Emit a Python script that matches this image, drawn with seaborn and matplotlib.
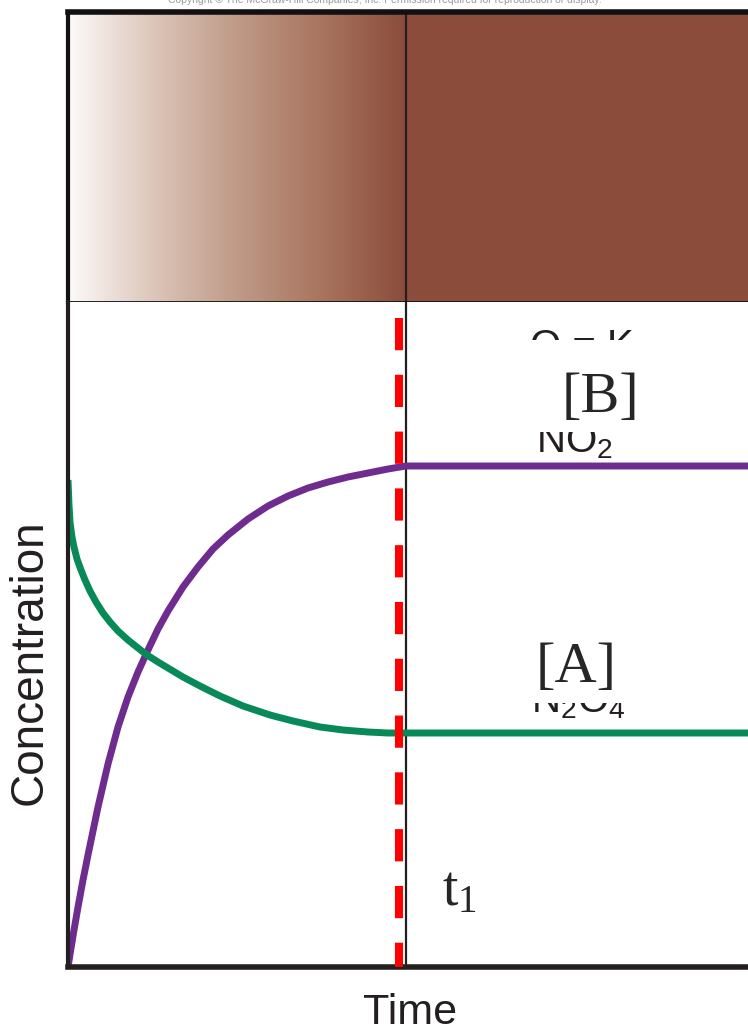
import numpy as np
import pandas as pd
import matplotlib
matplotlib.use('Agg')
import matplotlib.pyplot as plt
from matplotlib.colors import LinearSegmentedColormap
from matplotlib.patches import Rectangle
import seaborn as sns

# Data (time and concentration in arbitrary units)
time_b = [0, 5, 10, 15, 20, 30, 40, 50, 60, 70, 80, 90, 100, 115, 130, 145, 160, 180,
          200, 220, 240, 260, 280, 300, 320, 338, 680]
conc_b = [0, 31, 60, 87, 112, 160, 203, 240, 270, 295, 317, 338, 356, 380, 400, 418, 432, 448,
          461, 471, 479, 485, 490, 494, 498, 501, 501]
time_a = [0, 1, 2, 4, 6, 9, 13, 17, 22, 28, 35, 42, 50, 60, 70, 79, 90, 100, 115, 132, 152,
          175, 202, 225, 252, 275, 300, 320, 338, 680]
conc_a = [487, 462, 445, 430, 420, 408, 397, 387, 376, 365, 354, 345, 336, 327, 319, 312, 305,
          299, 290, 281, 271, 261, 252, 246, 240, 237, 235, 234, 234, 234]
t_eq = 338        # equilibrium time (black divider)
t_marker = 331    # red dashed marker
x_max, y_max = 680, 665

purple = '#6e2c8e'
green = '#078a58'
brown = '#8b4c3c'
ink = '#231f20'

sns.set_style('white')
plt.rcParams['font.family'] = ['Liberation Sans', 'DejaVu Sans']

W, H = 748, 1032
fig = plt.figure(figsize=(W / 100, H / 100), dpi=100)

# Top panel: colour of the mixture
ax_top = fig.add_axes([68 / W, (H - 302) / H, (W - 68) / W, (302 - 12) / H])
cmap = LinearSegmentedColormap.from_list('mix', ['#fdfafa', '#dcc6ba', '#bf9a87', '#a8755f', brown])
grad = np.linspace(0, 1, 256).reshape(1, -1)
ax_top.imshow(grad, cmap=cmap, aspect='auto', extent=[0, t_eq, 0, 1])
ax_top.axvspan(t_eq, x_max, color=brown, lw=0)
ax_top.axvline(t_eq, color=ink, lw=1.6)
ax_top.set_xlim(0, x_max)
ax_top.set_ylim(0, 1)
ax_top.set_xticks([])
ax_top.set_yticks([])
for side, lw in [('top', 4), ('left', 3), ('bottom', 2)]:
    ax_top.spines[side].set_linewidth(lw)
    ax_top.spines[side].set_color('#111111')
ax_top.spines['right'].set_visible(False)

# Bottom panel: concentration vs time
ax = fig.add_axes([68 / W, (H - 967) / H, (W - 68) / W, (967 - 302) / H])
df = pd.concat([
    pd.DataFrame({'time': time_b, 'conc': conc_b, 'species': 'B'}),
    pd.DataFrame({'time': time_a, 'conc': conc_a, 'species': 'A'}),
])
sns.lineplot(data=df, x='time', y='conc', hue='species', palette={'B': purple, 'A': green},
             lw=5, legend=False, ax=ax, sort=False, solid_capstyle='butt', solid_joinstyle='round')
ax.set_xlim(0, x_max)
ax.set_ylim(0, y_max)
ax.set_xticks([])
ax.set_yticks([])
ax.set_xlabel('')
ax.set_ylabel('')
ax.spines['right'].set_visible(False)
ax.spines['top'].set_visible(False)
ax.spines['left'].set_linewidth(3)
ax.spines['left'].set_color(ink)
ax.spines['bottom'].set_linewidth(4)
ax.spines['bottom'].set_color(ink)

ax.axvline(t_eq, color=ink, lw=1.6, zorder=1)
ax.plot([t_marker, t_marker], [649, 0], color='#ff0000', lw=5.8, dashes=(4, 3.05),
        dash_capstyle='butt', zorder=4)

# Original labels underneath, partly covered
ax.text(514, 610, 'Q = K', fontsize=29, color=ink, ha='center', va='baseline', zorder=2)
ax.text(507, 515, r'NO$\mathregular{_2}$', fontsize=29, color=ink, ha='center', va='baseline', zorder=2)
ax.text(510, 255, r'N$\mathregular{_2}$O$\mathregular{_4}$', fontsize=29, color=ink, ha='center',
        va='baseline', zorder=2)
ax.add_patch(Rectangle((457, 535), 140, 92, color='white', lw=0, zorder=3))
ax.add_patch(Rectangle((452, 264), 125, 60, color='white', lw=0, zorder=3))

serif = ['Liberation Serif', 'DejaVu Serif']
ax.text(533, 569, '[B]', fontsize=42, family=serif, ha='center', va='center', zorder=5)
ax.text(508, 299, '[A]', fontsize=42, family=serif, ha='center', va='center', zorder=5)
ax.text(391, 62, r't$\mathregular{_1}$', fontsize=40, family=serif, ha='center', va='baseline', zorder=5)

fig.text(30 / W, 1 - 662 / H, 'Concentration', fontsize=33, rotation=90, color=ink, ha='center', va='center')
fig.text(410 / W, 1 - 1013 / H, 'Time', fontsize=31, color=ink, ha='center', va='center')
fig.text(385 / W, 1.0, 'Copyright \u00a9 The McGraw-Hill Companies, Inc. Permission required for reproduction or display.',
         fontsize=7.5, color='#9a9a9a', ha='center', va='center')

fig.savefig('out.png', dpi=100)
